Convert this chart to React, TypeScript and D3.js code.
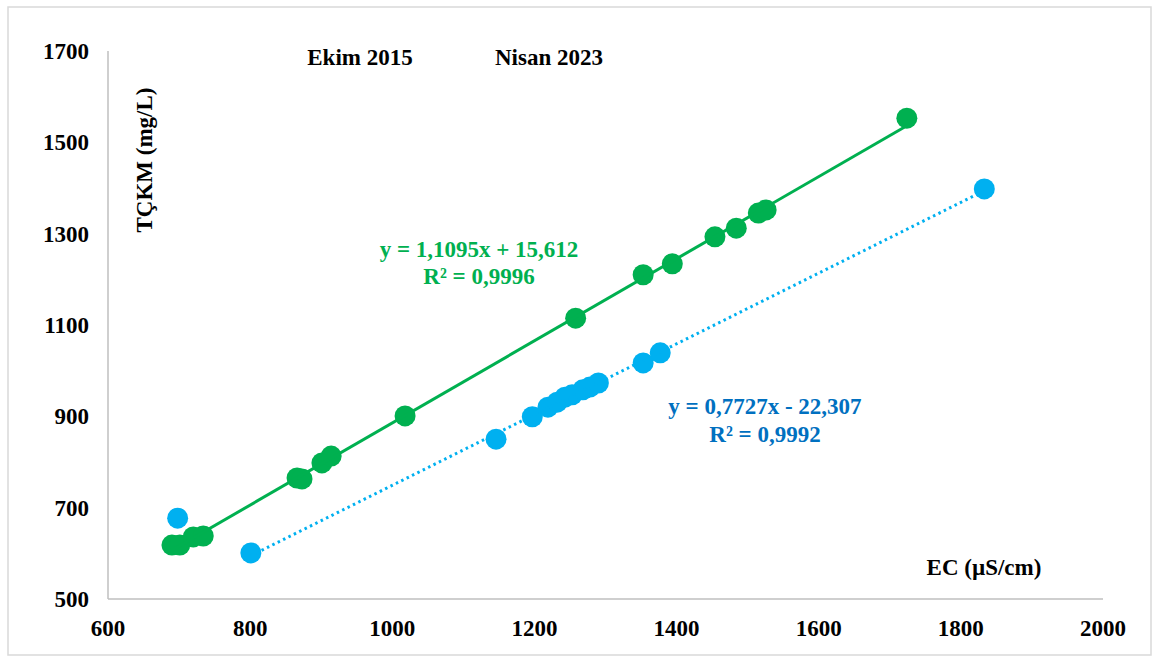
import React from "react";
import * as d3 from "d3";

// Ekim 2015 (green)
const ekimEC = [690, 701, 720, 734, 866, 873, 901, 914, 1018, 1258, 1353, 1394, 1454, 1484, 1515, 1526, 1724];
const ekimTDS = [618, 618, 636, 638, 765, 763, 798, 813, 901, 1115, 1210, 1234, 1293, 1312, 1345, 1352, 1553];

// Nisan 2023 (blue)
const nisanEC = [801, 1146, 1197, 1219, 1232, 1243, 1253, 1268, 1278, 1290, 1353, 1377, 1833];
const nisanTDS = [601, 850, 899, 920, 931, 942, 947, 958, 964, 973, 1017, 1039, 1398];
const nisanExtraEC = [698];
const nisanExtraTDS = [677];

const xTicks = [600, 800, 1000, 1200, 1400, 1600, 1800, 2000];
const yTicks = [500, 700, 900, 1100, 1300, 1500, 1700];

const seriesNames = ["Ekim 2015", "Nisan 2023"];
const ekimEq = ["y = 1,1095x + 15,612", "R² = 0,9996"];
const nisanEq = ["y = 0,7727x - 22,307", "R² = 0,9992"];
const xTitle = "EC (µS/cm)";
const yTitle = "TÇKM (mg/L)";

const GREEN = "#00B050";
const BLUE = "#00B0F0";
const BLUE_TXT = "#0070C0";
const FONT = "'Liberation Serif', 'Times New Roman', serif";

function fit(xs: number[], ys: number[]) {
  const mx = d3.mean(xs)!;
  const my = d3.mean(ys)!;
  let sxy = 0, sxx = 0;
  xs.forEach((x, i) => {
    sxy += (x - mx) * (ys[i] - my);
    sxx += (x - mx) * (x - mx);
  });
  const b = sxy / sxx;
  const a = my - b * mx;
  const [x0, x1] = d3.extent(xs) as [number, number];
  return [
    [x0, a + b * x0],
    [x1, a + b * x1],
  ] as [number, number][];
}

export default function App() {
  const W = 1156, H = 661;
  const x = d3.scaleLinear().domain([600, 2000]).range([108, 1103]);
  const y = d3.scaleLinear().domain([500, 1700]).range([599, 51]);
  const line = d3.line<[number, number]>().x(d => x(d[0])).y(d => y(d[1]));
  const gFit = fit(ekimEC, ekimTDS);
  const bFit = fit(nisanEC, nisanTDS);
  const fs = 23;
  const r = 10.5;

  return (
    <svg width={W} height={H} style={{ position: "absolute", left: 0, top: 0 }} fontFamily={FONT}>
      <rect x={0} y={0} width={W} height={H} fill="#fff" />
      <rect x={8} y={7} width={1143} height={648} fill="#fff" stroke="#D9D9D9" strokeWidth={1.5} />
      {/* axes */}
      <line x1={x(600)} x2={x(600)} y1={y(1700)} y2={y(500)} stroke="#BFBFBF" strokeWidth={1.5} />
      <line x1={x(600)} x2={x(2000)} y1={y(500)} y2={y(500)} stroke="#BFBFBF" strokeWidth={1.5} />
      {yTicks.map(t => (
        <text key={"y" + t} x={89} y={y(t)} dy="0.35em" textAnchor="end" fontSize={fs} fontWeight="bold" fill="#000">{t}</text>
      ))}
      {xTicks.map(t => (
        <text key={"x" + t} x={x(t)} y={628} dy="0.35em" textAnchor="middle" fontSize={fs} fontWeight="bold" fill="#000">{t}</text>
      ))}
      <text transform={`translate(144,160) rotate(-90)`} dy="0.35em" textAnchor="middle" fontSize={fs} fontWeight="bold" fill="#000">{yTitle}</text>
      <text x={984} y={567} dy="0.35em" textAnchor="middle" fontSize={fs} fontWeight="bold" fill="#000">{xTitle}</text>
      <text x={360} y={57} dy="0.35em" textAnchor="middle" fontSize={fs} fontWeight="bold" fill="#000">{seriesNames[0]}</text>
      <text x={549} y={57} dy="0.35em" textAnchor="middle" fontSize={fs} fontWeight="bold" fill="#000">{seriesNames[1]}</text>

      {/* markers */}
      {ekimEC.map((v, i) => (
        <circle key={"g" + i} cx={x(v)} cy={y(ekimTDS[i])} r={r} fill={GREEN} />
      ))}
      {nisanEC.map((v, i) => (
        <circle key={"b" + i} cx={x(v)} cy={y(nisanTDS[i])} r={r} fill={BLUE} />
      ))}
      {nisanExtraEC.map((v, i) => (
        <circle key={"bo" + i} cx={x(v)} cy={y(nisanExtraTDS[i])} r={r} fill={BLUE} />
      ))}

      {/* trendlines */}
      <path d={line(gFit)!} stroke={GREEN} strokeWidth={3} fill="none" />
      <path d={line(bFit)!} stroke={BLUE} strokeWidth={3} fill="none" strokeDasharray="2.5 3.5" />

      {/* equations */}
      <text x={479} y={249} dy="0.35em" textAnchor="middle" fontSize={fs} fontWeight="bold" fill={GREEN}>{ekimEq[0]}</text>
      <text x={479} y={276} dy="0.35em" textAnchor="middle" fontSize={fs} fontWeight="bold" fill={GREEN}>{ekimEq[1]}</text>
      <text x={765} y={406} dy="0.35em" textAnchor="middle" fontSize={fs} fontWeight="bold" fill={BLUE_TXT}>{nisanEq[0]}</text>
      <text x={765} y={434} dy="0.35em" textAnchor="middle" fontSize={fs} fontWeight="bold" fill={BLUE_TXT}>{nisanEq[1]}</text>
    </svg>
  );
}
